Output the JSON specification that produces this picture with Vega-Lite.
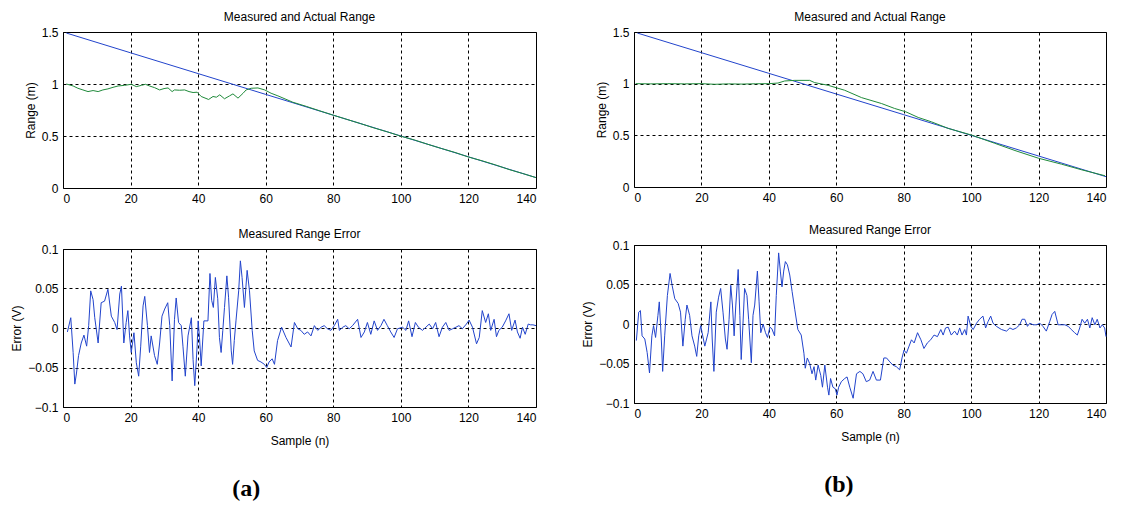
{
  "$schema": "https://vega.github.io/schema/vega-lite/v6.json",
  "background": "white",
  "padding": {"left": 10, "top": 10, "right": 16, "bottom": 5},
  "config": {
    "view": {"stroke": "black", "strokeWidth": 1},
    "axis": {"grid": true, "gridColor": "black", "gridDash": [3, 3], "gridOpacity": 1, "gridWidth": 1, "ticks": false, "domain": false,
      "labelFont": "Liberation Sans", "labelFontSize": 12, "labelColor": "black", "labelPadding": 5,
      "titleFont": "Liberation Sans", "titleFontSize": 12, "titleFontWeight": "normal", "titleColor": "black"},
    "title": {"font": "Liberation Sans", "fontSize": 12, "fontWeight": "normal", "color": "black", "offset": 2}
  },
  "datasets": {
    "actual": [{"n":1,"v":1.49},{"n":20,"v":1.3},{"n":40,"v":1.1},{"n":60,"v":0.9},{"n":80,"v":0.7},{"n":100,"v":0.5},{"n":120,"v":0.3},{"n":140,"v":0.1}],
    "measA": [{"n":1,"v":1.0},{"n":3,"v":0.981},{"n":4.4,"v":0.959},{"n":5.9,"v":0.943},{"n":7.4,"v":0.927},{"n":8.9,"v":0.937},{"n":10.4,"v":0.927},{"n":11.8,"v":0.943},{"n":13.3,"v":0.953},{"n":14.8,"v":0.968},{"n":16.3,"v":0.981},{"n":18.2,"v":0.987},{"n":20.2,"v":0.997},{"n":21.7,"v":0.975},{"n":23.2,"v":0.987},{"n":24.4,"v":0.997},{"n":25.6,"v":0.981},{"n":27.1,"v":0.965},{"n":28.6,"v":0.943},{"n":29.9,"v":0.956},{"n":31.1,"v":0.962},{"n":32.3,"v":0.927},{"n":33,"v":0.943},{"n":34.5,"v":0.94},{"n":36,"v":0.943},{"n":37.3,"v":0.927},{"n":38.5,"v":0.918},{"n":39.7,"v":0.921},{"n":40.9,"v":0.88},{"n":43.1,"v":0.851},{"n":44.4,"v":0.88},{"n":45.4,"v":0.873},{"n":46.4,"v":0.896},{"n":47.8,"v":0.858},{"n":49.3,"v":0.886},{"n":50.3,"v":0.905},{"n":51.8,"v":0.864},{"n":53.3,"v":0.911},{"n":54.2,"v":0.943},{"n":55.7,"v":0.959},{"n":57.7,"v":0.962},{"n":59.7,"v":0.943},{"n":61.6,"v":0.911},{"n":63.6,"v":0.886},{"n":68,"v":0.825},{"n":72,"v":0.785},{"n":76,"v":0.742},{"n":80,"v":0.7},{"n":84,"v":0.66},{"n":88,"v":0.62},{"n":92,"v":0.578},{"n":96,"v":0.54},{"n":100,"v":0.498},{"n":104,"v":0.462},{"n":108,"v":0.42},{"n":112,"v":0.38},{"n":116,"v":0.342},{"n":120,"v":0.298},{"n":124,"v":0.262},{"n":128,"v":0.222},{"n":132,"v":0.178},{"n":136,"v":0.14},{"n":140,"v":0.1}],
    "measB": [{"n":0.5,"v":1.0},{"n":5,"v":0.998},{"n":10,"v":1.0},{"n":15,"v":0.998},{"n":20,"v":1.0},{"n":24,"v":0.994},{"n":28,"v":0.998},{"n":32,"v":0.996},{"n":36,"v":0.999},{"n":40,"v":1.0},{"n":42.7,"v":1.006},{"n":44.7,"v":1.026},{"n":47.7,"v":1.032},{"n":52.1,"v":1.032},{"n":53.6,"v":1.01},{"n":57.6,"v":0.984},{"n":62.5,"v":0.936},{"n":67.5,"v":0.865},{"n":73.4,"v":0.808},{"n":77.3,"v":0.76},{"n":80.6,"v":0.728},{"n":84.3,"v":0.673},{"n":88.2,"v":0.631},{"n":93.2,"v":0.567},{"n":100.1,"v":0.503},{"n":107,"v":0.423},{"n":113,"v":0.353},{"n":119.9,"v":0.279},{"n":126.8,"v":0.221},{"n":132.7,"v":0.167},{"n":139.7,"v":0.109}],
    "errA": [{"n":1.3,"v":-0.005},{"n":2.3,"v":0.013},{"n":3,"v":-0.031},{"n":3.5,"v":-0.071},{"n":4,"v":-0.057},{"n":4.6,"v":-0.035},{"n":5.4,"v":-0.019},{"n":6.2,"v":-0.009},{"n":7,"v":-0.023},{"n":7.6,"v":0.003},{"n":8.2,"v":0.047},{"n":8.9,"v":0.036},{"n":9.4,"v":0.013},{"n":10.4,"v":-0.019},{"n":11.3,"v":0.032},{"n":12.3,"v":0.034},{"n":13.3,"v":0.049},{"n":14.3,"v":0.015},{"n":15.3,"v":0.007},{"n":16,"v":-0.002},{"n":16.8,"v":0.043},{"n":17.3,"v":0.053},{"n":18,"v":-0.019},{"n":18.7,"v":0.007},{"n":19.2,"v":0.022},{"n":19.7,"v":-0.01},{"n":20.2,"v":-0.031},{"n":21,"v":-0.006},{"n":21.7,"v":-0.044},{"n":22.4,"v":-0.061},{"n":23,"v":-0.023},{"n":23.7,"v":0.028},{"n":24.2,"v":0.04},{"n":25,"v":0.003},{"n":25.6,"v":-0.031},{"n":26.1,"v":-0.01},{"n":27.1,"v":-0.035},{"n":27.9,"v":-0.046},{"n":28.6,"v":-0.019},{"n":29.3,"v":0.015},{"n":30.1,"v":0.024},{"n":31,"v":0.032},{"n":31.6,"v":0.003},{"n":32.3,"v":-0.067},{"n":33,"v":0.011},{"n":33.5,"v":0.038},{"n":34.2,"v":0.007},{"n":35,"v":0.003},{"n":35.5,"v":-0.023},{"n":36.2,"v":-0.061},{"n":37,"v":-0.01},{"n":38,"v":0.013},{"n":38.5,"v":-0.04},{"n":39,"v":-0.073},{"n":39.7,"v":-0.023},{"n":40,"v":0.009},{"n":40.4,"v":-0.012},{"n":40.9,"v":-0.048},{"n":41.7,"v":0.009},{"n":42.9,"v":0.009},{"n":43.5,"v":0.069},{"n":44,"v":0.035},{"n":44.5,"v":0.026},{"n":45.1,"v":0.064},{"n":45.8,"v":0.037},{"n":46.3,"v":-0.012},{"n":46.8,"v":-0.031},{"n":47.3,"v":-0.003},{"n":47.8,"v":0.026},{"n":48.5,"v":0.066},{"n":49,"v":0.039},{"n":49.8,"v":-0.029},{"n":50.2,"v":-0.046},{"n":50.7,"v":-0.016},{"n":51.2,"v":0.009},{"n":52,"v":0.047},{"n":52.5,"v":0.085},{"n":53,"v":0.064},{"n":53.7,"v":0.026},{"n":54.5,"v":0.073},{"n":55.2,"v":0.047},{"n":56,"v":-0.003},{"n":56.6,"v":-0.029},{"n":57.6,"v":-0.041},{"n":58.6,"v":-0.043},{"n":59.6,"v":-0.046},{"n":60.3,"v":-0.05},{"n":61,"v":-0.043},{"n":61.9,"v":-0.039},{"n":62.6,"v":-0.046},{"n":63.5,"v":-0.016},{"n":64.7,"v":0.001},{"n":66,"v":-0.012},{"n":67.5,"v":-0.024},{"n":68.5,"v":0.007},{"n":69.5,"v":-0.001},{"n":70.4,"v":-0.003},{"n":71.4,"v":-0.008},{"n":72.4,"v":-0.005},{"n":73.4,"v":-0.01},{"n":74.4,"v":0.003},{"n":75.4,"v":-0.003},{"n":76.4,"v":0.001},{"n":77.3,"v":0.003},{"n":78.3,"v":-0.001},{"n":79.3,"v":-0.003},{"n":80.3,"v":0.003},{"n":81.3,"v":0.011},{"n":81.8,"v":-0.003},{"n":82.8,"v":0.001},{"n":83.7,"v":0.003},{"n":84.7,"v":-0.001},{"n":85.7,"v":0.003},{"n":87.2,"v":0.011},{"n":88.2,"v":-0.012},{"n":89.2,"v":-0.005},{"n":90.1,"v":0.007},{"n":91.1,"v":-0.008},{"n":92.1,"v":0.009},{"n":93.1,"v":-0.003},{"n":94.1,"v":0.003},{"n":95,"v":0.011},{"n":96,"v":0.003},{"n":97,"v":-0.005},{"n":98,"v":-0.012},{"n":99,"v":-0.001},{"n":100.5,"v":0.001},{"n":101.5,"v":-0.003},{"n":102.3,"v":0.009},{"n":103.3,"v":-0.011},{"n":104.3,"v":0.007},{"n":105.2,"v":0.001},{"n":106.4,"v":-0.003},{"n":107.4,"v":0.001},{"n":108.4,"v":0.005},{"n":109.4,"v":-0.001},{"n":110.3,"v":0.007},{"n":111.3,"v":-0.011},{"n":112.3,"v":0.001},{"n":113.3,"v":0.007},{"n":114.3,"v":-0.003},{"n":115.3,"v":-0.001},{"n":116.3,"v":0.001},{"n":117.2,"v":0.003},{"n":118.2,"v":-0.001},{"n":119.4,"v":0.005},{"n":120.2,"v":0.01},{"n":121.2,"v":0.001},{"n":122.4,"v":-0.02},{"n":123.2,"v":-0.012},{"n":124.1,"v":0.022},{"n":125.1,"v":0.007},{"n":125.9,"v":0.018},{"n":126.6,"v":-0.003},{"n":127.6,"v":0.011},{"n":128.3,"v":-0.011},{"n":129,"v":-0.003},{"n":130,"v":0.001},{"n":131,"v":0.009},{"n":132,"v":0.018},{"n":132.8,"v":-0.003},{"n":133.8,"v":0.01},{"n":134.5,"v":-0.005},{"n":135.3,"v":-0.013},{"n":136,"v":0.001},{"n":136.8,"v":-0.008},{"n":137.7,"v":0.005},{"n":138.4,"v":0.004},{"n":139.1,"v":0.004},{"n":140,"v":0.003}],
    "errB": [{"n":0.7,"v":-0.021},{"n":1.4,"v":0.015},{"n":1.9,"v":0.017},{"n":2.4,"v":-0.015},{"n":3.2,"v":-0.019},{"n":3.9,"v":-0.036},{"n":4.6,"v":-0.062},{"n":5.3,"v":-0.015},{"n":5.8,"v":-0.002},{"n":6.4,"v":-0.017},{"n":7.1,"v":0.011},{"n":7.5,"v":0.028},{"n":8.1,"v":-0.019},{"n":8.5,"v":-0.06},{"n":9.1,"v":-0.015},{"n":9.9,"v":0.036},{"n":10.7,"v":0.064},{"n":11.3,"v":0.049},{"n":12.1,"v":0.032},{"n":13.1,"v":0.026},{"n":13.8,"v":0.015},{"n":14.5,"v":-0.028},{"n":15.2,"v":0.006},{"n":15.7,"v":0.024},{"n":16.5,"v":0.011},{"n":17.2,"v":-0.015},{"n":18,"v":-0.028},{"n":18.6,"v":-0.041},{"n":19.2,"v":-0.015},{"n":19.8,"v":-0.002},{"n":20.2,"v":-0.011},{"n":21,"v":-0.028},{"n":22,"v":-0.011},{"n":22.8,"v":0.028},{"n":23.2,"v":-0.019},{"n":23.7,"v":-0.06},{"n":24.4,"v":0.015},{"n":25.1,"v":0.034},{"n":25.7,"v":0.045},{"n":26.4,"v":0.015},{"n":27.1,"v":-0.019},{"n":27.6,"v":-0.032},{"n":28.2,"v":0.006},{"n":28.7,"v":0.049},{"n":29.2,"v":0.024},{"n":29.7,"v":-0.015},{"n":30.2,"v":0.024},{"n":30.9,"v":0.069},{"n":31.4,"v":0.011},{"n":31.8,"v":-0.045},{"n":32.3,"v":-0.002},{"n":32.8,"v":0.045},{"n":33.5,"v":0.036},{"n":34,"v":0.006},{"n":34.8,"v":-0.049},{"n":35.3,"v":0.011},{"n":35.8,"v":0.024},{"n":36.6,"v":0.067},{"n":37.1,"v":0.028},{"n":37.6,"v":-0.011},{"n":38.3,"v":0},{"n":39,"v":-0.011},{"n":39.6,"v":-0.017},{"n":40.3,"v":-0.004},{"n":40.9,"v":-0.006},{"n":41.7,"v":-0.015},{"n":42.2,"v":0.036},{"n":42.9,"v":0.09},{"n":43.4,"v":0.067},{"n":43.9,"v":0.047},{"n":44.4,"v":0.067},{"n":44.9,"v":0.079},{"n":45.5,"v":0.075},{"n":46.2,"v":0.062},{"n":46.9,"v":0.041},{"n":47.7,"v":0.018},{"n":48.6,"v":-0.007},{"n":49.6,"v":-0.014},{"n":50.4,"v":-0.037},{"n":50.8,"v":-0.056},{"n":51.4,"v":-0.043},{"n":52.1,"v":-0.05},{"n":52.8,"v":-0.063},{"n":53.4,"v":-0.054},{"n":53.9,"v":-0.071},{"n":54.6,"v":-0.052},{"n":55.4,"v":-0.065},{"n":55.9,"v":-0.08},{"n":56.6,"v":-0.052},{"n":57.4,"v":-0.08},{"n":57.8,"v":-0.09},{"n":58.3,"v":-0.069},{"n":59,"v":-0.08},{"n":59.7,"v":-0.082},{"n":60.2,"v":-0.09},{"n":60.7,"v":-0.08},{"n":61.5,"v":-0.073},{"n":62.5,"v":-0.069},{"n":63.2,"v":-0.067},{"n":64,"v":-0.08},{"n":65,"v":-0.094},{"n":66,"v":-0.063},{"n":67,"v":-0.06},{"n":67.9,"v":-0.063},{"n":68.9,"v":-0.073},{"n":69.9,"v":-0.071},{"n":70.9,"v":-0.06},{"n":71.9,"v":-0.071},{"n":73.1,"v":-0.071},{"n":74.1,"v":-0.043},{"n":74.9,"v":-0.043},{"n":75.9,"v":-0.048},{"n":76.8,"v":-0.052},{"n":77.8,"v":-0.054},{"n":78.8,"v":-0.058},{"n":79.5,"v":-0.043},{"n":80.1,"v":-0.033},{"n":80.8,"v":-0.037},{"n":81.5,"v":-0.029},{"n":82.3,"v":-0.02},{"n":83.1,"v":-0.024},{"n":84.1,"v":-0.011},{"n":85.1,"v":-0.02},{"n":86,"v":-0.031},{"n":87,"v":-0.024},{"n":88,"v":-0.02},{"n":89,"v":-0.014},{"n":90,"v":-0.016},{"n":91,"v":-0.007},{"n":91.7,"v":-0.014},{"n":92.4,"v":-0.005},{"n":93.2,"v":-0.004},{"n":94.1,"v":-0.014},{"n":95.1,"v":-0.009},{"n":95.9,"v":-0.014},{"n":96.6,"v":-0.005},{"n":97.3,"v":-0.014},{"n":98.1,"v":-0.007},{"n":98.6,"v":-0.014},{"n":99.1,"v":0.01},{"n":99.9,"v":-0.003},{"n":100.6,"v":-0.007},{"n":101.6,"v":0.001},{"n":102.5,"v":0.006},{"n":103.5,"v":0.01},{"n":104.3,"v":-0.005},{"n":105,"v":0.003},{"n":105.8,"v":0.01},{"n":106.5,"v":0.001},{"n":107.5,"v":-0.003},{"n":109,"v":-0.007},{"n":110.5,"v":-0.009},{"n":111.5,"v":-0.005},{"n":112.4,"v":-0.007},{"n":113.4,"v":-0.005},{"n":114.4,"v":-0.001},{"n":115.1,"v":0.006},{"n":115.9,"v":0.006},{"n":116.7,"v":-0.003},{"n":117.4,"v":0.001},{"n":118.4,"v":-0.001},{"n":119.4,"v":-0.001},{"n":120.4,"v":0.001},{"n":121.3,"v":-0.003},{"n":122.3,"v":-0.009},{"n":123.3,"v":0.003},{"n":124,"v":0.012},{"n":124.8,"v":0.016},{"n":125.8,"v":-0.001},{"n":126.8,"v":-0.001},{"n":127.8,"v":-0.001},{"n":128.8,"v":-0.003},{"n":129.7,"v":-0.007},{"n":130.7,"v":-0.011},{"n":131.5,"v":-0.014},{"n":132.2,"v":-0.005},{"n":132.9,"v":0.006},{"n":133.7,"v":0.001},{"n":134.5,"v":0.006},{"n":135.2,"v":-0.005},{"n":135.9,"v":0.008},{"n":136.7,"v":-0.001},{"n":137.4,"v":0.006},{"n":138.2,"v":-0.005},{"n":138.9,"v":-0.001},{"n":139.6,"v":-0.005},{"n":140,"v":-0.016}]
  },
  "hconcat": [
    {
      "spacing": 22,
      "title": {"text": "(a)", "orient": "bottom", "anchor": "start", "font": "Liberation Serif", "fontSize": 24, "fontWeight": "bold", "offset": 30, "dx": 222},
      "vconcat": [
        {
          "title": "Measured and Actual Range",
          "width": 473, "height": 156,
          "layer": [
            {"data": {"name": "actual"}, "mark": {"type": "line", "color": "#2244cc", "strokeWidth": 1},
             "encoding": {
               "x": {"field": "n", "type": "quantitative", "scale": {"domain": [0, 140], "nice": false}, "axis": {"values": [0,20,40,60,80,100,120,140], "title": null}},
               "y": {"field": "v", "type": "quantitative", "scale": {"domain": [0, 1.5], "nice": false}, "axis": {"values": [0,0.5,1,1.5], "format": "~g", "title": "Range (m)"}}}},
            {"data": {"name": "measA"}, "mark": {"type": "line", "color": "#1f8a3a", "strokeWidth": 1},
             "encoding": {"x": {"field": "n", "type": "quantitative"}, "y": {"field": "v", "type": "quantitative"}}}
          ]
        },
        {
          "title": "Measured Range Error",
          "width": 473, "height": 158,
          "data": {"name": "errA"},
          "mark": {"type": "line", "color": "#2244cc", "strokeWidth": 1},
          "encoding": {
            "x": {"field": "n", "type": "quantitative", "scale": {"domain": [0, 140], "nice": false}, "axis": {"values": [0,20,40,60,80,100,120,140], "title": "Sample (n)", "titlePadding": 12}},
            "y": {"field": "v", "type": "quantitative", "scale": {"domain": [-0.1, 0.1], "nice": false}, "axis": {"values": [-0.1,-0.05,0,0.05,0.1], "format": "~g", "title": "Error (V)"}}
          }
        }
      ]
    },
    {
      "spacing": 19,
      "title": {"text": "(b)", "orient": "bottom", "anchor": "start", "font": "Liberation Serif", "fontSize": 24, "fontWeight": "bold", "offset": 30, "dx": 243},
      "vconcat": [
        {
          "title": "Measured and Actual Range",
          "width": 472, "height": 155,
          "layer": [
            {"data": {"name": "actual"}, "mark": {"type": "line", "color": "#2244cc", "strokeWidth": 1},
             "encoding": {
               "x": {"field": "n", "type": "quantitative", "scale": {"domain": [0, 140], "nice": false}, "axis": {"values": [0,20,40,60,80,100,120,140], "title": null}},
               "y": {"field": "v", "type": "quantitative", "scale": {"domain": [0, 1.5], "nice": false}, "axis": {"values": [0,0.5,1,1.5], "format": "~g", "title": "Range (m)"}}}},
            {"data": {"name": "measB"}, "mark": {"type": "line", "color": "#1f8a3a", "strokeWidth": 1},
             "encoding": {"x": {"field": "n", "type": "quantitative"}, "y": {"field": "v", "type": "quantitative"}}}
          ]
        },
        {
          "title": "Measured Range Error",
          "width": 472, "height": 158,
          "data": {"name": "errB"},
          "mark": {"type": "line", "color": "#2244cc", "strokeWidth": 1},
          "encoding": {
            "x": {"field": "n", "type": "quantitative", "scale": {"domain": [0, 140], "nice": false}, "axis": {"values": [0,20,40,60,80,100,120,140], "title": "Sample (n)", "titlePadding": 12}},
            "y": {"field": "v", "type": "quantitative", "scale": {"domain": [-0.1, 0.1], "nice": false}, "axis": {"values": [-0.1,-0.05,0,0.05,0.1], "format": "~g", "title": "Error (V)"}}
          }
        }
      ]
    }
  ],
  "spacing": 42
}
